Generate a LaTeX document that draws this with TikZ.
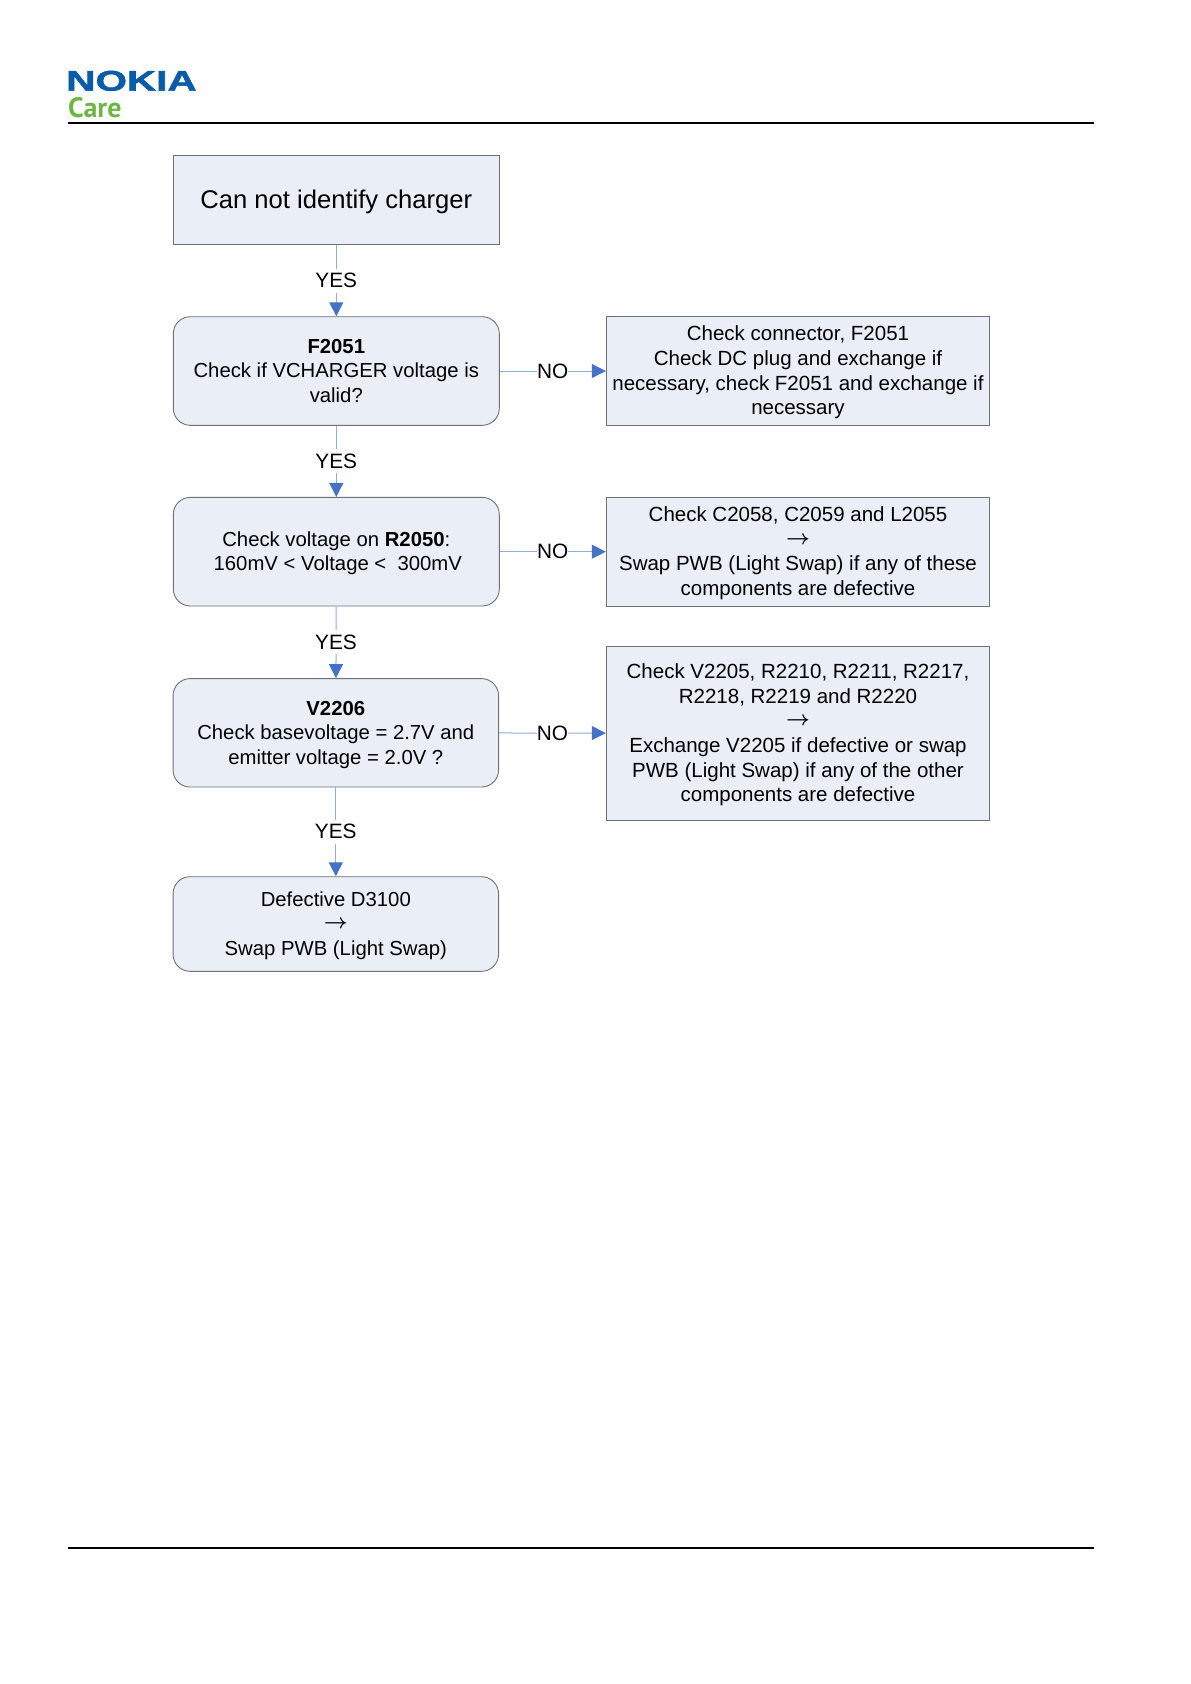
\documentclass[tikz,border=0pt]{standalone}
\usepackage{fontspec}
\setmainfont{Liberation Sans}
\newfontfamily\carefont{PT Sans}
\newfontfamily\nokiafont[FakeBold=1.5]{Liberation Sans Bold}
\newcommand{\thento}{\raisebox{2pt}{\boldmath$\rightarrow$}}
\newcommand{\toppad}{\rule{0pt}{18pt}}
\usetikzlibrary{arrows.meta}
\definecolor{boxfill}{HTML}{E9EEF7}
\definecolor{boxline}{HTML}{6E7072}
\definecolor{linkline}{HTML}{8FAEDB}
\definecolor{linktip}{HTML}{4472C4}
\definecolor{nokiablue}{HTML}{0A5CA8}
\definecolor{caregreen}{HTML}{6CB644}
\tikzset{
  squarebox/.style={draw=boxline,fill=boxfill,line width=0.9pt,inner sep=0pt,align=center,
    font=\fontsize{20.3}{24.6}\selectfont},
  fixbox/.style={squarebox,minimum width=383.5pt,font=\fontsize{20.5}{24.6}\selectfont},
  roundbox/.style={squarebox,rounded corners=17pt,minimum width=326pt},
  link/.style={draw=linkline,line width=1pt,-{Triangle[length=14pt,width=14pt,color=linktip]}},
  lab/.style={fill=white,inner xsep=0pt,inner ysep=2pt,text height=17pt,text depth=3pt,font=\fontsize{20.8}{24}\selectfont},
  rule/.style={line width=2pt,black}
}
\begin{document}
\begin{tikzpicture}[x=1pt,y=-1pt]
\useasboundingbox (0,0) rectangle (1191,1684);
% header and footer
\node[anchor=base west,inner sep=0pt,xscale=1.42,text=nokiablue,font=\fontsize{28.5}{28}\nokiafont\selectfont] (nokia) at (66,90.7) {NOKIA};
\node[anchor=base west,inner sep=0pt,text=caregreen,font=\fontsize{28}{28}\bfseries\carefont\selectfont] (care) at (68,117) {Care};
\coordinate (headL) at (68,123);
\coordinate (headR) at (1094,123);
\coordinate (footL) at (68,1547.7);
\coordinate (footR) at (1094,1547.7);
\draw[rule] (headL) -- (headR);
\draw[rule] (footL) -- (footR);
% left column
\node[squarebox,minimum width=326pt,minimum height=89.4pt,font=\fontsize{25.6}{30}\selectfont] (charger) at (336.3,200) {\rule{0pt}{21.5pt}Can not identify charger};
\node[roundbox,minimum height=108.6pt] (f2051) at (336.3,371) {\textbf{F2051}\\Check if VCHARGER voltage is\\valid?};
\node[roundbox,minimum height=108.6pt] (r2050) at (336.3,551.7) {\toppad Check voltage on \textbf{R2050}:\\\hspace*{3pt}160mV < Voltage <\ \ 300mV};
\node[roundbox,minimum height=108.4pt,minimum width=325.5pt] (v2206) at (335.8,732.8) {\toppad\textbf{V2206}\\Check basevoltage = 2.7V and\\emitter voltage = 2.0V ?};
\node[roundbox,minimum height=94.6pt,minimum width=325.5pt] (d3100) at (335.8,924) {\toppad Defective D3100\\\thento\\Swap PWB (Light Swap)};
% right column
\node[fixbox,minimum height=108.6pt] (fixF) at (798,371) {\toppad Check connector, F2051\\Check DC plug and exchange if\\necessary, check F2051 and exchange if\\necessary};
\node[fixbox,minimum height=108.6pt] (fixR) at (798,551.7) {\toppad Check C2058, C2059 and L2055\\\thento\\Swap PWB (Light Swap) if any of these\\components are defective};
\node[fixbox,minimum height=174pt] (fixV) at (798,733.3) {\toppad Check V2205, R2210, R2211, R2217,\\R2218, R2219 and R2220\\\thento\\Exchange V2205 if defective or swap\\PWB (Light Swap) if any of the other\\components are defective};
% connectors
\foreach \a/\b in {charger/f2051,f2051/r2050,r2050/v2206,v2206/d3100} {
  \draw[link] (\a) -- node[lab] (yes\b) {YES} (\b);
}
\foreach \a/\b in {f2051/fixF,r2050/fixR,v2206/fixV} {
  \draw[link] (\a) -- node[lab] (no\b) {NO} (\b);
}
\end{tikzpicture}
\end{document}
